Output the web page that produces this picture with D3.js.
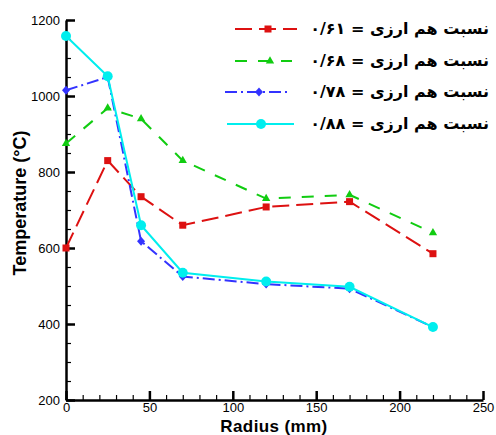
<!DOCTYPE html>
<html>
<head>
<meta charset="utf-8">
<script src="https://cdn.jsdelivr.net/npm/d3@7"></script>
<style>
  body { margin: 0; background: #fff; }
  svg { display: block; }
  .tick text { font-family: "Liberation Sans", Arial, sans-serif; font-size: 13px; }
</style>
</head>
<body>
<div id="chart"></div>
<script>
// radius positions (mm)
var radius = [0, 25, 45, 70, 120, 170, 220];

// temperature per equivalence ratio
var temp061 = [600, 830, 735, 660, 708, 722, 585];
var temp068 = [875, 968, 940, 830, 730, 740, 640];
var temp078 = [1015, 1050, 618, 525, 505, 493, 392];
var temp088 = [1158, 1052, 660, 535, 512, 498, 392];

var legendLabels = ["نسبت هم ارزی = ۰/۶۱", "نسبت هم ارزی = ۰/۶۸", "نسبت هم ارزی = ۰/۷۸", "نسبت هم ارزی = ۰/۸۸"];

var xTicks = [0, 50, 100, 150, 200, 250];
var yTicks = [200, 400, 600, 800, 1000, 1200];

var series = [
    {vals: temp061, color: "#dd1111", dash: "17,7", marker: "square"},
    {vals: temp068, color: "#11cc11", dash: "12,11", marker: "triangle"},
    {vals: temp078, color: "#3333ff", dash: "12,4,2,4", marker: "diamond"},
    {vals: temp088, color: "#00eeee", dash: null, marker: "circle"}
];

var W = 496, H = 435;
var svg = d3.select("#chart").append("svg").attr("width", W).attr("height", H);

var x = d3.scaleLinear().domain([0, 250]).range([66, 483]);
var y = d3.scaleLinear().domain([200, 1200]).range([400, 20]);

// minor ticks
svg.append("g").attr("transform", "translate(0,400)")
    .call(d3.axisBottom(x).tickValues(d3.range(0, 251, 10)).tickSize(-5).tickFormat(""))
    .call(g => g.select(".domain").remove())
    .selectAll("line").attr("stroke", "#000").attr("stroke-width", 1.2);
svg.append("g").attr("transform", "translate(66,0)")
    .call(d3.axisLeft(y).tickValues(d3.range(200, 1201, 50)).tickSize(-5).tickFormat(""))
    .call(g => g.select(".domain").remove())
    .selectAll("line").attr("stroke", "#000").attr("stroke-width", 1.2);

// major axes
var xAxis = svg.append("g").attr("transform", "translate(0,400)")
    .call(d3.axisBottom(x).tickValues(xTicks).tickSize(-9).tickPadding(3).tickSizeOuter(0).tickFormat(d3.format("d")));
xAxis.select(".domain").attr("stroke-width", 2.5);
xAxis.selectAll("line").attr("stroke-width", 2.5);

var yAxis = svg.append("g").attr("transform", "translate(66,0)")
    .call(d3.axisLeft(y).tickValues(yTicks).tickSize(-9).tickPadding(6).tickSizeOuter(0).tickFormat(d3.format("d")));
yAxis.select(".domain").attr("stroke-width", 2.5);
yAxis.selectAll("line").attr("stroke-width", 2.5);
yAxis.selectAll("text").attr("x", -6);

// axis titles
svg.append("text").attr("x", 274).attr("y", 432).attr("text-anchor", "middle")
    .attr("font-family", "Liberation Sans, Arial, sans-serif").attr("font-weight", "bold")
    .attr("font-size", 17).attr("letter-spacing", 0.4).text("Radius (mm)");
svg.append("text").attr("transform", "translate(26,203) rotate(-90)").attr("text-anchor", "middle")
    .attr("font-family", "Liberation Sans, Arial, sans-serif").attr("font-weight", "bold")
    .attr("font-size", 18).text("Temperature (°C)");

function drawMarker(g, type, cx, cy, color) {
    if (type === "square") {
        g.append("rect").attr("x", cx - 3.5).attr("y", cy - 3.5).attr("width", 7).attr("height", 7).attr("fill", color);
    } else if (type === "triangle") {
        g.append("path").attr("d", d3.symbol(d3.symbolTriangle, 30)()).attr("transform", "translate(" + cx + "," + cy + ")").attr("fill", color);
    } else if (type === "diamond") {
        g.append("path").attr("d", "M0,-4.5L4,0L0,4.5L-4,0Z").attr("transform", "translate(" + cx + "," + cy + ")").attr("fill", color);
    } else {
        g.append("circle").attr("cx", cx).attr("cy", cy).attr("r", 5).attr("fill", color);
    }
}

var line = d3.line().x((d, i) => x(radius[i])).y(d => y(d));

series.forEach(function(s) {
    var g = svg.append("g");
    g.append("path").datum(s.vals).attr("d", line).attr("fill", "none")
        .attr("stroke", s.color).attr("stroke-width", 2)
        .attr("stroke-dasharray", s.dash);
    s.vals.forEach(function(v, i) { drawMarker(g, s.marker, x(radius[i]), y(v), s.color); });
});

// legend
var legY = [29, 61, 92, 124];
var legX = [[235, 297, 268], [235, 292, 270], [225, 288, 259], [227, 294, 261]];
series.forEach(function(s, i) {
    var g = svg.append("g");
    g.append("line").attr("x1", legX[i][0]).attr("x2", legX[i][1]).attr("y1", legY[i]).attr("y2", legY[i])
        .attr("stroke", s.color).attr("stroke-width", 2).attr("stroke-dasharray", s.dash);
    drawMarker(g, s.marker, legX[i][2], legY[i], s.color);
    g.append("text").attr("x", 489).attr("y", legY[i] + 5).attr("text-anchor", "end")
        .attr("font-family", "DejaVu Sans, sans-serif").attr("font-weight", "bold")
        .attr("font-size", 16).text(legendLabels[i]);
});
</script>
</body>
</html>
